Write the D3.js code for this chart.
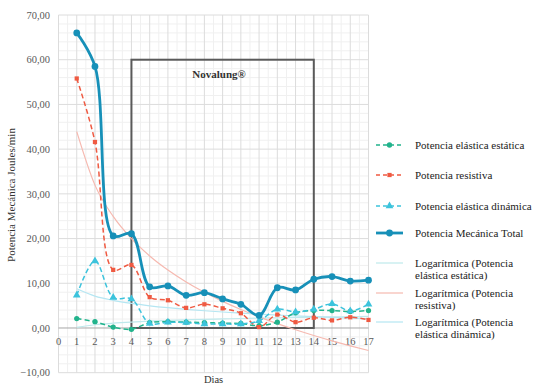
<!DOCTYPE html>
<html>
<head>
<meta charset="utf-8">
<script src="https://cdn.jsdelivr.net/npm/d3@7"></script>
<style>
  body { margin: 0; background: #fff; }
  svg text { font-family: "Liberation Serif", "DejaVu Serif", serif; }
</style>
</head>
<body>
<svg id="chart" width="539" height="391"></svg>
<script>
// Data
const days = [1, 2, 3, 4, 5, 6, 7, 8, 9, 10, 11, 12, 13, 14, 15, 16, 17];
const elasticStatic = [2.1, 1.4, 0.2, -0.3, 1.2, 1.4, 1.3, 1.2, 1.1, 1.0, 0.5, 1.3, 3.4, 3.9, 3.9, 3.7, 3.9];
const resistive = [55.8, 41.6, 13.0, 14.1, 6.9, 6.2, 4.5, 5.3, 4.4, 3.3, 0.2, 3.0, 1.3, 2.3, 1.7, 2.4, 1.8];
const elasticDynamic = [7.3, 15.0, 6.8, 6.5, 1.0, 1.3, 1.2, 0.9, 0.9, 0.9, 1.6, 4.2, 3.6, 4.2, 5.4, 3.8, 5.3];
const totalPower = [66.0, 58.5, 20.6, 21.1, 9.2, 9.4, 7.3, 7.9, 6.5, 5.3, 2.8, 9.0, 8.5, 10.9, 11.5, 10.5, 10.7];
const yTicks = [-10, 0, 10, 20, 30, 40, 50, 60, 70];
const xTicks = d3.range(0, 18);

const svg = d3.select('#chart');
const x = d3.scaleLinear().domain([0, 17]).range([58.5, 368.5]);
const y = d3.scaleLinear().domain([-10, 70]).range([372.7, 15]);

// log trend (least squares on ln x), like the spreadsheet does
function logFit(vals) {
  const lx = days.map(d => Math.log(d));
  const mx = d3.mean(lx), my = d3.mean(vals);
  let sxy = 0, sxx = 0;
  lx.forEach((v, i) => { sxy += (v - mx) * (vals[i] - my); sxx += (v - mx) * (v - mx); });
  const b = sxy / sxx, a = my - b * mx;
  return days.map(d => ({ d, v: a + b * Math.log(d) }));
}

// grid
const grid = svg.append('g');
grid.selectAll('.vmin').data(d3.range(0.5, 17, 1)).enter().append('line')
  .attr('x1', d => x(d)).attr('x2', d => x(d)).attr('y1', y(70)).attr('y2', y(-10))
  .attr('stroke', '#f0f0f0');
grid.selectAll('.hmin').data(d3.range(-10, 70, 2).filter(v => v % 10 !== 0)).enter().append('line')
  .attr('x1', x(0)).attr('x2', x(17)).attr('y1', d => y(d)).attr('y2', d => y(d))
  .attr('stroke', '#f0f0f0');
grid.selectAll('.vmaj').data(xTicks).enter().append('line')
  .attr('x1', d => x(d)).attr('x2', d => x(d)).attr('y1', y(70)).attr('y2', y(-10))
  .attr('stroke', '#dcdcdc');
grid.selectAll('.hmaj').data(yTicks).enter().append('line')
  .attr('x1', x(0)).attr('x2', x(17)).attr('y1', d => y(d)).attr('y2', d => y(d))
  .attr('stroke', d => d === 0 ? '#a6a6a6' : '#dcdcdc');

// y tick labels
svg.append('g').selectAll('text').data(yTicks).enter().append('text')
  .attr('x', 50).attr('y', d => y(d)).attr('dy', '0.35em')
  .attr('text-anchor', 'end').attr('font-size', 10.5).attr('fill', '#595959')
  .text(d => d3.format('.2f')(d).replace('.', ','));

// x tick labels under the zero line
svg.append('g').selectAll('text').data(xTicks).enter().append('text')
  .attr('x', d => x(d)).attr('y', y(0) + 17)
  .attr('text-anchor', 'middle').attr('font-size', 10.5).attr('fill', '#595959')
  .text(d => d);

// axis titles
svg.append('text').attr('x', x(8.5)).attr('y', 383).attr('text-anchor', 'middle')
  .attr('font-size', 10.5).attr('fill', '#333').text('Dias');
svg.append('text').attr('transform', 'translate(15,195) rotate(-90)').attr('text-anchor', 'middle')
  .attr('font-size', 11).attr('fill', '#333').text('Potencia Mecánica Joules/min');

// Novalung box
svg.append('rect').attr('x', x(4)).attr('y', y(60))
  .attr('width', x(14) - x(4)).attr('height', y(0) - y(60))
  .attr('fill', 'none').attr('stroke', '#5a5a5a').attr('stroke-width', 2);
svg.append('text').attr('x', 219).attr('y', 78).attr('text-anchor', 'middle')
  .attr('font-size', 11).attr('font-weight', 'bold').attr('fill', '#333').text('Novalung®');

// trend lines
const trends = [
  { vals: elasticStatic, color: '#bfe9ec' },
  { vals: resistive, color: '#f6b9b0' },
  { vals: elasticDynamic, color: '#b5e6f2' }
];
const trendLine = d3.line().x(p => x(p.d)).y(p => y(p.v)).curve(d3.curveMonotoneX);
trends.forEach(t => {
  svg.append('path').attr('d', trendLine(logFit(t.vals)))
    .attr('fill', 'none').attr('stroke', t.color).attr('stroke-width', 1.2);
});

// series
const series = [
  { name: 'Potencia elástica estática', vals: elasticStatic, color: '#22b38c', dash: '5,3', width: 1.5, sym: d3.symbolCircle, size: 22 },
  { name: 'Potencia resistiva', vals: resistive, color: '#ef5a42', dash: '5,3', width: 1.5, sym: d3.symbolSquare, size: 18 },
  { name: 'Potencia elástica dinámica', vals: elasticDynamic, color: '#3cc3dc', dash: '5,3', width: 1.5, sym: d3.symbolTriangle, size: 26 },
  { name: 'Potencia Mecánica Total', vals: totalPower, color: '#1790b8', dash: null, width: 2.8, sym: d3.symbolCircle, size: 36 }
];
const line = d3.line().x((v, i) => x(days[i])).y(v => y(v)).curve(d3.curveCatmullRom.alpha(0.5));
series.forEach(s => {
  svg.append('path').attr('d', line(s.vals))
    .attr('fill', 'none').attr('stroke', s.color).attr('stroke-width', s.width)
    .attr('stroke-dasharray', s.dash);
  svg.append('g').selectAll('path').data(s.vals).enter().append('path')
    .attr('transform', (v, i) => `translate(${x(days[i])},${y(v)})`)
    .attr('d', d3.symbol().type(s.sym).size(s.size))
    .attr('fill', s.color);
});

// legend
const legend = [
  { label: ['Potencia elástica estática'], y: 145, s: series[0] },
  { label: ['Potencia resistiva'], y: 175, s: series[1] },
  { label: ['Potencia elástica dinámica'], y: 206, s: series[2] },
  { label: ['Potencia Mecánica Total'], y: 233, s: series[3] },
  { label: ['Logarítmica (Potencia', 'elástica estática)'], y: 263, color: trends[0].color },
  { label: ['Logarítmica (Potencia', 'resistiva)'], y: 293, color: trends[1].color },
  { label: ['Logarítmica (Potencia', 'elástica dinámica)'], y: 322, color: trends[2].color }
];
legend.forEach(l => {
  const g = svg.append('g');
  if (l.s) {
    g.append('line').attr('x1', 376).attr('x2', 403).attr('y1', l.y).attr('y2', l.y)
      .attr('stroke', l.s.color).attr('stroke-width', l.s.width).attr('stroke-dasharray', l.s.dash ? '4,3' : null);
    g.append('path').attr('transform', `translate(389.5,${l.y})`)
      .attr('d', d3.symbol().type(l.s.sym).size(l.s.size)).attr('fill', l.s.color);
  } else {
    g.append('line').attr('x1', 376).attr('x2', 403).attr('y1', l.y).attr('y2', l.y)
      .attr('stroke', l.color).attr('stroke-width', 1.2);
  }
  l.label.forEach((t, i) => {
    g.append('text').attr('x', 415).attr('y', l.y + i * 12).attr('dy', '0.35em')
      .attr('font-size', 11).attr('fill', '#222').text(t);
  });
});
</script>
</body>
</html>
